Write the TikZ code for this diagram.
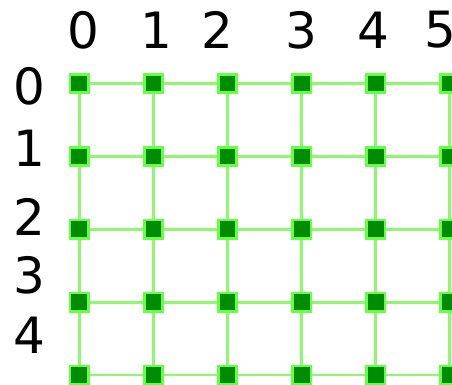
\documentclass[tikz,border=0pt]{standalone}
\usepackage{fontspec}
\setmainfont{DejaVu Sans}
\usetikzlibrary{positioning}
\definecolor{cellfill}{RGB}{0,140,0}
\definecolor{cellrim}{RGB}{102,255,68}
\definecolor{gridline}{RGB}{144,248,112}
\begin{document}
\begin{tikzpicture}[x=1pt,y=-1pt,
    cell/.style={draw=cellrim, fill=cellfill, line width=2.7pt, minimum size=18.5pt, inner sep=0pt},
    gridlink/.style={draw=gridline, line width=2.7pt},
    lbl/.style={font=\fontsize{50}{50}\selectfont, inner sep=0pt}]
    \useasboundingbox (0,0) rectangle (452,384);
    \clip (0,0) rectangle (452,384);
    % Grid nodes
    \foreach \c in {0,...,5}
      \foreach \r in {0,...,4}
        \node[cell] (n-\c-\r) at ({79.3+74.1*\c},{83.5+72.9*\r}) {};
    % Horizontal links
    \foreach \r in {0,...,4}
      \foreach \c/\d in {0/1,1/2,2/3,3/4,4/5}
        \draw[gridlink] (n-\c-\r) -- (n-\d-\r);
    % Vertical links
    \foreach \c in {0,...,5}
      \foreach \r/\s in {0/1,1/2,2/3,3/4}
        \draw[gridlink] (n-\c-\r) -- (n-\c-\s);
    % Column labels
    \foreach \x/\t in {83/0,156/1,217/2,301/3,373/4,440/5}
      \node[lbl] (col-\t) at (\x,30) {\t};
    % Row labels
    \foreach \y/\t in {86/0,148/1,217/2,275/3,335/4}
      \node[lbl] (row-\t) at (29,\y) {\t};
\end{tikzpicture}
\end{document}
